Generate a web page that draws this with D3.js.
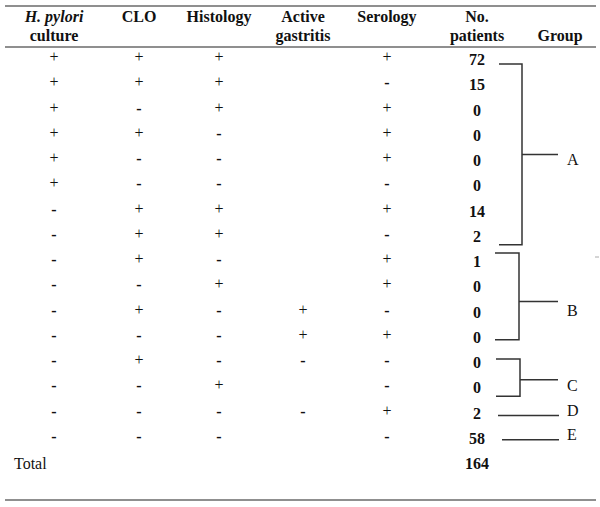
<!DOCTYPE html>
<html>
<head>
<meta charset="utf-8">
<script src="https://cdn.jsdelivr.net/npm/d3@7"></script>
<style>
  html, body { margin: 0; padding: 0; background: #fff; }
  svg { display: block; }
  text { font-family: "Liberation Serif", "Times New Roman", serif; fill: #111; }
</style>
</head>
<body>
<svg id="chart" width="600" height="507"></svg>
<script>
// ---- data ----
const headerKeys = ["culture", "clo", "histology", "active", "serology", "patients", "group"];
const headerLine1 = ["H. pylori", "CLO", "Histology", "Active", "Serology", "No.", ""];
const headerLine2 = ["culture", "", "", "gastritis", "", "patients", "Group"];
const culture   = ["+","+","+","+","+","+","-","-","-","-","-","-","-","-","-","-"];
const clo       = ["+","+","-","+","-","-","+","+","+","-","+","-","+","-","-","-"];
const histology = ["+","+","+","-","-","-","+","+","-","+","-","-","-","+","-","-"];
const active    = ["","","","","","","","","","","+","+","-","","-",""];
const serology  = ["+","-","+","+","+","-","+","-","+","+","-","+","-","-","+","-"];
const patients  = [72, 15, 0, 0, 0, 0, 14, 2, 1, 0, 0, 0, 0, 0, 2, 58];
const totalLabel = "Total";
const totalPatients = 164;
const groupNames = ["A", "B", "C", "D", "E"];
const groupFirst = [0, 8, 12, 14, 15];
const groupLast  = [7, 11, 13, 14, 15];

// ---- scales ----
const svg = d3.select("#chart");
const x = d3.scaleOrdinal()
  .domain(headerKeys)
  .range([54, 139, 219, 303, 387, 477, 560]);
const y = d3.scaleLinear().domain([0, 16]).range([65, 469]); // row baselines
const rowIdx = d3.range(patients.length);

// ---- rules ----
const ruleColor = "#6a6a6a";
[6, 47, 500].forEach(ry => {
  svg.append("line").attr("x1", 5).attr("x2", 596).attr("y1", ry).attr("y2", ry)
    .attr("stroke", ruleColor).attr("stroke-width", 1.6);
});

// ---- header ----
const hdr = svg.append("g").attr("font-size", 16).attr("font-weight", "bold");
hdr.selectAll("text.h1").data(headerKeys).join("text")
  .attr("class", "h1")
  .attr("x", d => x(d)).attr("y", 22)
  .attr("text-anchor", "middle")
  .attr("font-style", (d, i) => i === 0 ? "italic" : "normal")
  .text((d, i) => headerLine1[i]);
hdr.selectAll("text.h2").data(headerKeys).join("text")
  .attr("class", "h2")
  .attr("x", d => x(d)).attr("y", 41)
  .attr("text-anchor", "middle")
  .text((d, i) => headerLine2[i]);

// ---- +/- cells ----
const signCols = [["culture", culture], ["clo", clo], ["histology", histology], ["active", active], ["serology", serology]];
signCols.forEach(([key, vals]) => {
  svg.append("g").selectAll("text").data(rowIdx).join("text")
    .attr("x", x(key))
    .attr("y", i => y(i) - (vals[i] === "+" ? 3 : 2))
    .attr("text-anchor", "middle")
    .attr("font-size", 16)
    .attr("font-weight", i => vals[i] === "-" ? "bold" : "normal")
    .attr("fill", i => vals[i] === "+" ? "#3a3a3a" : "#111")
    .text(i => vals[i]);
});

// ---- patient numbers ----
svg.append("g").selectAll("text").data(rowIdx).join("text")
  .attr("x", x("patients")).attr("y", i => y(i))
  .attr("text-anchor", "middle").attr("font-size", 16).attr("font-weight", "bold")
  .text(i => patients[i]);

// ---- total ----
svg.append("text").attr("x", 14).attr("y", y(16)).attr("font-size", 16).text(totalLabel);
svg.append("text").attr("x", x("patients")).attr("y", y(16))
  .attr("text-anchor", "middle").attr("font-size", 16).attr("font-weight", "bold")
  .text(totalPatients);

// ---- group brackets ----
const topOff = [-1, -14, -9, -3, -4];
const botOff = [3, -3, 3, -3, -4];
const midOff = [0, 5, 2, 0, 0];
const labOff = [11, 15, 11, 0, 0];
const bx0 = [499, 495, 496, 498, 502];
const bxv = [522, 519, 520, 0, 0];
const gb = svg.append("g").attr("stroke", "#333").attr("stroke-width", 1.5).attr("fill", "none");
groupNames.forEach((g, k) => {
  const top = y(groupFirst[k]) + topOff[k];
  const bot = y(groupLast[k]) + botOff[k];
  const labelX = 567;
  if (groupFirst[k] !== groupLast[k]) {
    const mid = (top + bot) / 2 + midOff[k];
    gb.append("path").attr("d", `M${bx0[k]},${top}H${bxv[k]}V${bot}H${bx0[k]}`);
    gb.append("line").attr("x1", bxv[k]).attr("x2", 558).attr("y1", mid).attr("y2", mid);
    svg.append("text").attr("x", labelX).attr("y", mid + labOff[k]).attr("font-size", 16).text(g);
  } else {
    gb.append("line").attr("x1", bx0[k]).attr("x2", 559).attr("y1", top).attr("y2", top);
    svg.append("text").attr("x", labelX).attr("y", top).attr("font-size", 16).text(g);
  }
});
// stray tick at right edge
svg.append("line").attr("x1", 595).attr("x2", 599).attr("y1", 257).attr("y2", 257)
  .attr("stroke", "#aaa").attr("stroke-width", 1);
</script>
</body>
</html>
